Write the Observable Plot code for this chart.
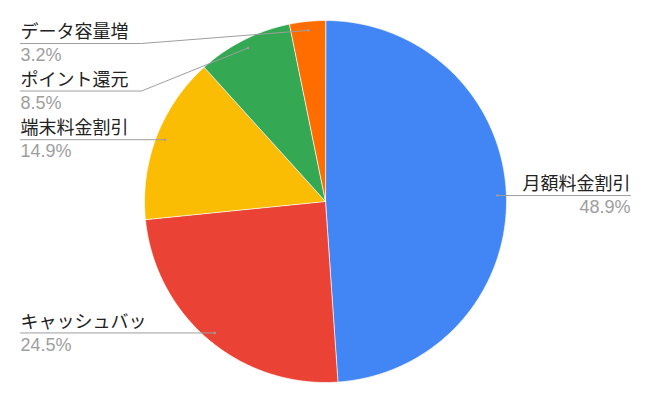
<!DOCTYPE html>
<html>
<head>
<meta charset="utf-8">
<script src="https://cdn.jsdelivr.net/npm/d3@7"></script>
<script src="https://cdn.jsdelivr.net/npm/@observablehq/plot@0.6"></script>
<style>
  html, body { margin: 0; padding: 0; background: #fff; }
  #chart svg { display: block; }
</style>
</head>
<body>
<div id="chart"></div>
<script>
const categories = ["月額料金割引", "キャッシュバック", "端末料金割引", "ポイント還元", "データ容量増"];
const shownLabels = ["月額料金割引", "キャッシュバッ", "端末料金割引", "ポイント還元", "データ容量増"];
const values = [48.9, 24.5, 14.9, 8.5, 3.2];
const colors = ["#4285F4", "#EA4335", "#FBBC04", "#34A853", "#FF6D01"];

const W = 650, H = 402;
const cx = 325, cy = 201, R = 181;
const fontSize = 18;

const arcs = d3.pie().sort(null).value(d => d)(values);

const pt = (a, r) => [cx + r * Math.sin(a), cy - r * Math.cos(a)];

// slice polygons
const slices = arcs.map((a, i) => {
  const pts = [{x: cx, y: cy}];
  const n = Math.max(2, Math.ceil((a.endAngle - a.startAngle) / (Math.PI / 360)));
  for (let k = 0; k <= n; k++) {
    const ang = a.startAngle + (a.endAngle - a.startAngle) * k / n;
    const [x, y] = pt(ang, R);
    pts.push({x, y});
  }
  return {cat: categories[i], color: colors[i], pts};
});

// label layout
const items = arcs.map((a, i) => {
  const mid = (a.startAngle + a.endAngle) / 2;
  const [ax, ay] = pt(mid, R * 0.95);
  return {i, ax, ay, right: ax > cx, ly: ay};
});
const gap = 47.5, minTop = 43;
for (const side of [true, false]) {
  const g = items.filter(d => d.right === side).sort((a, b) => a.ay - b.ay);
  let prev = -Infinity;
  g.forEach(d => {
    d.ly = Math.max(d.ay, prev + gap, minTop);
    prev = d.ly;
  });
}
const leftX = 20, rightX = 630, elbowL = 141;
const leaders = [];
items.forEach(d => {
  const tx = d.right ? rightX : leftX;
  const path = Math.abs(d.ly - d.ay) < 0.5
    ? [[tx, d.ay], [d.ax, d.ay]]
    : [[tx, d.ly], [elbowL, d.ly], [d.ax, d.ay]];
  path.forEach(([x, y]) => leaders.push({i: d.i, x, y}));
});
const labelRows = items.map(d => ({
  right: d.right,
  x: d.right ? rightX : leftX,
  y: Math.abs(d.ly - d.ay) < 0.5 ? d.ay : d.ly,
  name: shownLabels[d.i],
  pct: values[d.i].toFixed(1) + "%",
  ax: d.ax, ay: d.ay
}));
const leftRows = labelRows.filter(d => !d.right);
const rightRows = labelRows.filter(d => d.right);

const marks = [];
slices.forEach(s => {
  marks.push(Plot.line(s.pts, {x: "x", y: "y", fill: s.color, stroke: "#ffffff", strokeWidth: 0.7, curve: "linear-closed"}));
});
marks.push(Plot.line(leaders, {x: "x", y: "y", z: "i", stroke: "#9e9e9e", strokeWidth: 1}));
marks.push(Plot.dot(labelRows, {x: "ax", y: "ay", r: 1.3, fill: "#9e9e9e", stroke: null}));
for (const [rows, anchor] of [[leftRows, "start"], [rightRows, "end"]]) {
  marks.push(Plot.text(rows, {x: "x", y: "y", text: "name", textAnchor: anchor, dy: -11, fill: "#222222", fontSize,
    fontFamily: "'Noto Sans CJK JP', sans-serif"}));
  marks.push(Plot.text(rows, {x: "x", y: "y", text: "pct", textAnchor: anchor, dy: 12, fill: "#9e9e9e", fontSize,
    fontFamily: "'Liberation Sans', Arial, sans-serif"}));
}

const chart = Plot.plot({
  width: W, height: H,
  margin: 0,
  x: {domain: [0, W], range: [0, W], axis: null},
  y: {domain: [0, H], range: [0, H], axis: null},
  style: {fontFamily: "'Liberation Sans', 'Noto Sans CJK JP', sans-serif", background: "#ffffff"},
  marks
});
document.getElementById("chart").appendChild(chart);
</script>
</body>
</html>
